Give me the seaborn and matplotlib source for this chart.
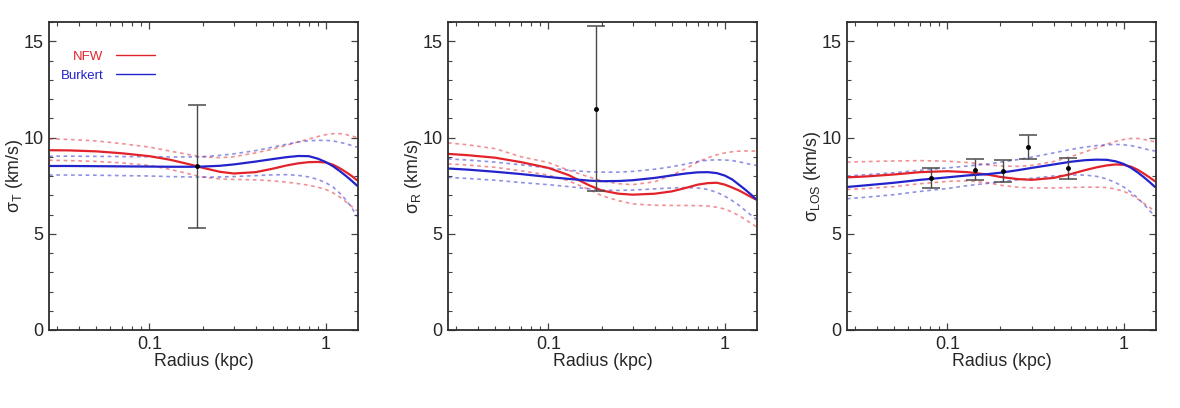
import numpy as np
import pandas as pd
import matplotlib
matplotlib.use("Agg")
import matplotlib.pyplot as plt
import matplotlib.ticker as mticker
import seaborn as sns

# Radios comunes de las curvas (kpc)
radios = [0.027, 0.035, 0.05, 0.07, 0.1, 0.13, 0.17, 0.2, 0.25, 0.3, 0.4,
          0.5, 0.6, 0.7, 0.8, 0.9, 1.0, 1.1, 1.2, 1.3, 1.4, 1.5]

# Panel 1: sigma_T
t_nfw = [9.34, 9.33, 9.28, 9.18, 9.03, 8.85, 8.6, 8.43, 8.22, 8.13, 8.2,
         8.38, 8.55, 8.66, 8.72, 8.73, 8.7, 8.58, 8.4, 8.2, 8.0, 7.78]
t_nfw_hi = [9.93, 9.9, 9.82, 9.68, 9.5, 9.3, 9.1, 9.0, 8.95, 9.0, 9.2,
            9.4, 9.6, 9.78, 9.92, 10.05, 10.15, 10.2, 10.2, 10.15, 10.08, 10.0]
t_nfw_lo = [8.82, 8.8, 8.76, 8.68, 8.55, 8.35, 8.1, 7.95, 7.85, 7.82, 7.8,
            7.75, 7.68, 7.6, 7.52, 7.42, 7.3, 7.12, 6.9, 6.65, 6.42, 6.2]
t_bur = [8.52, 8.52, 8.51, 8.5, 8.49, 8.48, 8.48, 8.49, 8.53, 8.6, 8.75,
         8.88, 8.98, 9.04, 9.03, 8.9, 8.72, 8.5, 8.25, 8.0, 7.75, 7.5]
t_bur_hi = [9.03, 9.03, 9.02, 9.01, 9.0, 8.99, 8.99, 9.0, 9.07, 9.15, 9.32,
            9.5, 9.65, 9.77, 9.83, 9.85, 9.85, 9.82, 9.75, 9.68, 9.58, 9.5]
t_bur_lo = [8.05, 8.05, 8.04, 8.02, 8.0, 7.97, 7.95, 7.94, 7.95, 7.97, 8.02,
            8.06, 8.07, 8.03, 7.95, 7.82, 7.65, 7.42, 7.1, 6.75, 6.35, 5.9]

# Panel 2: sigma_R
r_nfw = [9.15, 9.08, 8.95, 8.72, 8.42, 8.05, 7.52, 7.25, 7.08, 7.03, 7.08,
         7.2, 7.38, 7.55, 7.63, 7.65, 7.55, 7.4, 7.25, 7.08, 6.92, 6.78]
r_nfw_hi = [9.72, 9.62, 9.42, 9.0, 8.7, 8.3, 7.95, 7.75, 7.6, 7.55, 7.7,
            8.05, 8.38, 8.72, 8.95, 9.1, 9.2, 9.26, 9.29, 9.3, 9.3, 9.29]
r_nfw_lo = [8.63, 8.57, 8.45, 8.27, 8.05, 7.75, 7.3, 6.98, 6.72, 6.55, 6.48,
            6.47, 6.47, 6.46, 6.44, 6.38, 6.28, 6.12, 5.95, 5.75, 5.55, 5.38]
r_bur = [8.39, 8.33, 8.22, 8.1, 7.95, 7.85, 7.76, 7.73, 7.74, 7.78, 7.9,
         8.03, 8.13, 8.19, 8.2, 8.15, 8.02, 7.82, 7.55, 7.3, 7.05, 6.8]
r_bur_hi = [8.89, 8.83, 8.72, 8.58, 8.42, 8.3, 8.22, 8.2, 8.2, 8.24, 8.35,
            8.48, 8.62, 8.75, 8.82, 8.84, 8.83, 8.8, 8.74, 8.67, 8.6, 8.55]
r_bur_lo = [7.93, 7.87, 7.78, 7.66, 7.55, 7.45, 7.33, 7.27, 7.25, 7.27, 7.33,
            7.38, 7.4, 7.38, 7.3, 7.15, 6.95, 6.72, 6.48, 6.22, 5.98, 5.75]

# Panel 3: sigma_LOS
l_nfw = [7.93, 7.98, 8.08, 8.2, 8.25, 8.2, 8.07, 7.95, 7.84, 7.8, 7.9,
         8.1, 8.3, 8.45, 8.55, 8.6, 8.58, 8.48, 8.32, 8.12, 7.92, 7.73]
l_nfw_hi = [8.72, 8.75, 8.78, 8.8, 8.77, 8.7, 8.58, 8.52, 8.5, 8.55, 8.75,
            9.0, 9.25, 9.45, 9.65, 9.8, 9.9, 9.95, 9.95, 9.9, 9.83, 9.78]
l_nfw_lo = [7.3, 7.35, 7.45, 7.6, 7.72, 7.75, 7.65, 7.52, 7.42, 7.38, 7.38,
            7.4, 7.42, 7.42, 7.4, 7.32, 7.2, 7.02, 6.8, 6.58, 6.37, 6.15]
l_bur = [7.43, 7.52, 7.65, 7.8, 7.93, 8.03, 8.1, 8.17, 8.3, 8.42, 8.6,
         8.74, 8.82, 8.85, 8.84, 8.76, 8.62, 8.42, 8.18, 7.93, 7.68, 7.43]
l_bur_hi = [8.0, 8.07, 8.17, 8.3, 8.42, 8.52, 8.62, 8.72, 8.85, 8.98, 9.2,
            9.38, 9.5, 9.58, 9.62, 9.64, 9.62, 9.58, 9.5, 9.42, 9.35, 9.3]
l_bur_lo = [6.82, 6.9, 7.03, 7.2, 7.35, 7.5, 7.62, 7.7, 7.8, 7.88, 8.0,
            8.05, 8.05, 7.98, 7.85, 7.65, 7.42, 7.15, 6.85, 6.52, 6.2, 5.9]

# Datos observados
obs_t_x, obs_t_y, obs_t_err = [0.185], [8.5], [3.2]
obs_r_x, obs_r_y, obs_r_err = [0.186], [11.5], [4.3]
obs_l_x = [0.081, 0.143, 0.207, 0.288, 0.48]
obs_l_y = [7.9, 8.33, 8.25, 9.5, 8.39]
obs_l_err = [0.53, 0.56, 0.56, 0.63, 0.56]

ETIQUETAS_Y = ['σ$_{\\mathrm{T}}$ (km/s)', 'σ$_{\\mathrm{R}}$ (km/s)',
               'σ$_{\\mathrm{LOS}}$ (km/s)']

ROJO = '#e2232a'
AZUL = '#2323cc'

sns.set_theme(style="ticks")
plt.rcParams['font.family'] = ['Liberation Sans', 'DejaVu Sans']
plt.rcParams['mathtext.fontset'] = 'custom'
plt.rcParams['mathtext.rm'] = 'Liberation Sans'

paneles = [
    (t_nfw, t_nfw_hi, t_nfw_lo, t_bur, t_bur_hi, t_bur_lo, obs_t_x, obs_t_y, obs_t_err),
    (r_nfw, r_nfw_hi, r_nfw_lo, r_bur, r_bur_hi, r_bur_lo, obs_r_x, obs_r_y, obs_r_err),
    (l_nfw, l_nfw_hi, l_nfw_lo, l_bur, l_bur_hi, l_bur_lo, obs_l_x, obs_l_y, obs_l_err),
]

fig, axes = plt.subplots(1, 3, figsize=(11.8, 4.08), dpi=100)
fig.subplots_adjust(left=49 / 1180, right=1156 / 1180, bottom=78 / 408,
                    top=386 / 408, wspace=0.291)

for i, (ax, datos) in enumerate(zip(axes, paneles)):
    nfw, nfw_hi, nfw_lo, bur, bur_hi, bur_lo, ox, oy, oerr = datos
    # bandas (punteadas)
    for curva, col in [(nfw_hi, ROJO), (nfw_lo, ROJO), (bur_hi, AZUL), (bur_lo, AZUL)]:
        sns.lineplot(x=radios, y=curva, ax=ax, color=col, alpha=0.5, lw=1.2,
                     linestyle=(0, (2.2, 2.2)))
    # curvas centrales
    sns.lineplot(x=radios, y=nfw, ax=ax, color=ROJO, lw=1.6, label='NFW')
    sns.lineplot(x=radios, y=bur, ax=ax, color=AZUL, lw=1.6, label='Burkert')
    # datos
    ax.errorbar(ox, oy, yerr=oerr, fmt='o', color='black', ms=2.5,
                ecolor='#4a4a4a', elinewidth=1, capsize=6.5, capthick=1.1, zorder=5)

    ax.set_xscale('log')
    ax.set_xlim(0.027, 1.52)
    ax.set_ylim(0, 16)
    ax.xaxis.set_major_locator(mticker.FixedLocator([0.1, 1]))
    ax.xaxis.set_major_formatter(mticker.FixedFormatter(['0.1', '1']))
    ax.xaxis.set_minor_locator(mticker.LogLocator(base=10, subs=np.arange(2, 10)))
    ax.xaxis.set_minor_formatter(mticker.NullFormatter())
    ax.yaxis.set_major_locator(mticker.MultipleLocator(5))
    ax.yaxis.set_minor_locator(mticker.MultipleLocator(1))
    ax.tick_params(which='both', direction='in', top=True, right=True,
                   color='#444444', labelsize=13)
    ax.tick_params(which='major', length=5, width=0.9, pad=4)
    ax.tick_params(which='minor', length=3, width=0.8)
    for sp in ax.spines.values():
        sp.set_linewidth(1.3)
        sp.set_color('#2e2e2e')
    ax.set_xlabel('Radius (kpc)', fontsize=12.8, labelpad=0)
    ax.set_ylabel(ETIQUETAS_Y[i], fontsize=12.8, labelpad=-1)

    if i == 0:
        leg = ax.legend(loc='upper left', bbox_to_anchor=(0.0, 0.945), frameon=False,
                        markerfirst=False, fontsize=9.5, handlelength=3.0,
                        handletextpad=0.9, labelspacing=0.5, labelcolor='linecolor')
        for ln in leg.get_lines():
            ln.set_linewidth(1.0)
    else:
        ax.get_legend().remove()

fig.savefig('out.png', dpi=100)
